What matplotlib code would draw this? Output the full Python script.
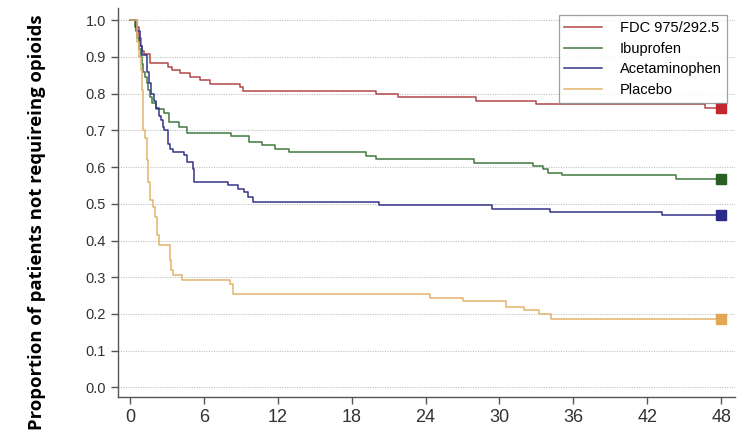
import matplotlib
matplotlib.use("Agg")
import matplotlib.pyplot as plt
import numpy as np

# hours since end of surgery vs proportion not requiring opioids (step curves)
fdc_t = [0, 0.6, 0.75, 0.9, 1.0, 1.14, 1.62, 3.08, 3.4, 4.06, 4.87, 5.68, 6.49, 8.93, 9.17, 20.0, 21.8, 28.1, 33.0, 46.7]
fdc_v = [1.0, 0.98, 0.95, 0.93, 0.915, 0.909, 0.884, 0.873, 0.864, 0.855, 0.846, 0.836, 0.827, 0.818, 0.807, 0.80, 0.791, 0.78, 0.771, 0.762]

ibu_t = [0, 0.45, 0.6, 0.75, 0.9, 1.0, 1.1, 1.2, 1.35, 1.5, 1.65, 1.8, 2.1, 2.8, 3.2, 4.0, 4.6, 8.2, 9.7, 10.7, 11.8, 12.9, 19.2, 20.0, 27.9, 32.7, 33.5, 33.9, 35.1, 44.3]
ibu_v = [1.0, 0.98, 0.95, 0.92, 0.90, 0.88, 0.86, 0.845, 0.83, 0.81, 0.79, 0.775, 0.759, 0.746, 0.723, 0.709, 0.694, 0.684, 0.668, 0.659, 0.650, 0.641, 0.629, 0.621, 0.612, 0.603, 0.594, 0.585, 0.577, 0.568]

ace_t = [0, 0.5, 0.8, 1.0, 1.35, 1.4, 1.55, 1.75, 1.95, 2.1, 2.35, 2.5, 2.65, 2.8, 3.1, 3.25, 3.5, 4.4, 4.6, 5.1, 5.2, 8.0, 8.8, 9.3, 9.6, 10.0, 20.2, 29.4, 34.1, 43.2]
ace_v = [1.0, 0.97, 0.93, 0.905, 0.885, 0.86, 0.83, 0.80, 0.78, 0.76, 0.74, 0.728, 0.71, 0.70, 0.664, 0.65, 0.641, 0.632, 0.614, 0.596, 0.559, 0.550, 0.541, 0.532, 0.519, 0.505, 0.496, 0.487, 0.478, 0.469]

pla_t = [0, 0.55, 0.7, 0.87, 1.0, 1.08, 1.22, 1.35, 1.48, 1.62, 1.89, 2.03, 2.17, 2.38, 3.25, 3.35, 3.46, 4.2, 8.1, 8.4, 24.4, 27.0, 30.5, 32.0, 33.2, 34.2]
pla_v = [1.0, 0.94, 0.90, 0.864, 0.81, 0.70, 0.68, 0.62, 0.56, 0.51, 0.49, 0.464, 0.414, 0.387, 0.346, 0.319, 0.307, 0.293, 0.282, 0.255, 0.243, 0.234, 0.22, 0.21, 0.199, 0.187]

labels = ["FDC 975/292.5", "Ibuprofen", "Acetaminophen", "Placebo"]
line_colors = ["#b04848", "#3f7a3f", "#34348a", "#e0b46a"]
marker_colors = ["#c4262e", "#2b5e25", "#2a2a88", "#e3a652"]
end_time = 48

x_ticks = [0, 6, 12, 18, 24, 30, 36, 42, 48]
y_ticks = [0.0, 0.1, 0.2, 0.3, 0.4, 0.5, 0.6, 0.7, 0.8, 0.9, 1.0]

plt.rcParams['font.family'] = ['Liberation Sans', 'DejaVu Sans']

fig = plt.figure(figsize=(7.49, 4.34), dpi=100)
ax = fig.add_axes([0.1575, 0.0853, 0.8235, 0.8963])

for t, v, lc, mc, lab in zip([fdc_t, ibu_t, ace_t, pla_t], [fdc_v, ibu_v, ace_v, pla_v],
                             line_colors, marker_colors, labels):
    tt = list(t) + [end_time]
    vv = list(v) + [v[-1]]
    ax.step(tt, vv, where="post", color=lc, lw=1.1, label=lab)
    ax.plot([end_time], [v[-1]], marker="s", ms=7, color=mc, ls="none")

ax.set_xlim(-0.97, 49.1)
ax.set_ylim(-0.026, 1.033)
ax.set_xticks(x_ticks)
ax.set_yticks(y_ticks)
ax.set_yticklabels(["%.1f" % y for y in y_ticks])
for y in y_ticks:
    ax.axhline(y, color="#c0c0c0", lw=0.8, ls=(0, (1, 1.2)), zorder=0)

for s in ["top", "right"]:
    ax.spines[s].set_visible(False)
for s in ["left", "bottom"]:
    ax.spines[s].set_color("#555555")
    ax.spines[s].set_linewidth(1.0)
ax.tick_params(axis="y", labelsize=10.5, colors="#555555", labelcolor="#333333", length=5, width=1)
ax.tick_params(axis="x", labelsize=13, colors="#555555", labelcolor="#333333", length=5, width=1)

fig.text(0.05, 0.487, "Proportion of patients not requireing opioids", rotation=90,
         ha="center", va="center", fontsize=13.3, fontweight="bold", family="Open Sans")

leg = ax.legend(loc="upper right", bbox_to_anchor=(1.0, 1.0), fontsize=10.5, frameon=True,
                fancybox=False, edgecolor="#888888", handlelength=2.6, handletextpad=1.2,
                labelspacing=0.45, borderpad=0.4)
leg.get_frame().set_linewidth(0.9)

fig.savefig("out.png", dpi=100)
